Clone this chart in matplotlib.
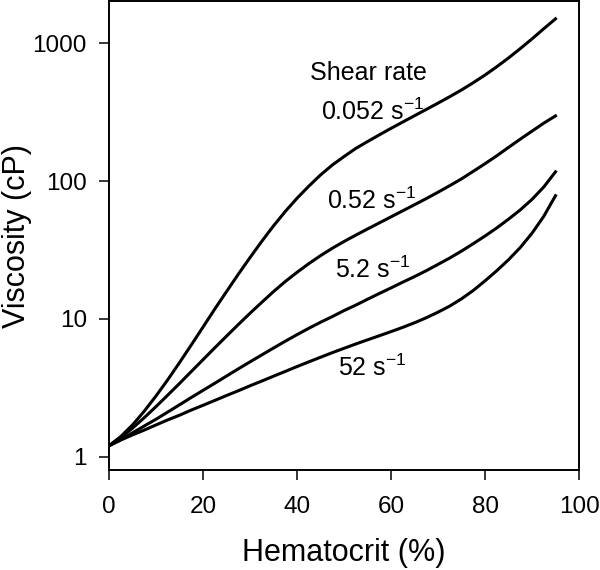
import matplotlib
matplotlib.use("Agg")
import matplotlib.pyplot as plt

plt.rcParams["font.family"] = ["Liberation Sans", "DejaVu Sans"]
plt.rcParams["mathtext.fontset"] = "custom"
plt.rcParams["mathtext.rm"] = "Liberation Sans"
plt.rcParams["mathtext.it"] = "Liberation Sans"

# Hematocrit (%) and viscosity (cP) for each shear rate
hct = [0, 2.5, 5, 7.5, 10, 12.5, 15, 17.5, 20, 22.5, 25, 27.5, 30, 32.5, 35,
       37.5, 40, 42.5, 45, 47.5, 50, 52.5, 55, 57.5, 60, 62.5, 65, 67.5, 70,
       72.5, 75, 77.5, 80, 82.5, 85, 87.5, 90, 92.5, 95]
visc_0052 = [1.2, 1.4, 1.7, 2.14, 2.76, 3.62, 4.82, 6.47, 8.73, 11.8, 15.8,
             21.1, 27.9, 36.6, 47.4, 60.3, 75.2, 92.0, 111, 131, 151, 173, 194,
             217, 242, 269, 299, 332, 369, 411, 460, 519, 590, 678, 785, 918,
             1080, 1280, 1510]
visc_052 = [1.2, 1.38, 1.61, 1.92, 2.31, 2.80, 3.40, 4.15, 5.06, 6.17, 7.50,
            9.10, 11.0, 13.2, 15.8, 18.7, 21.8, 25.2, 28.8, 32.6, 36.5, 40.6,
            45.0, 49.8, 55.1, 61.0, 67.5, 74.8, 83.2, 92.9, 104, 118, 134, 153,
            176, 202, 231, 264, 298]
visc_52 = [1.2, 1.33, 1.49, 1.67, 1.87, 2.11, 2.38, 2.69, 3.03, 3.41, 3.85,
           4.34, 4.88, 5.48, 6.15, 6.89, 7.69, 8.55, 9.46, 10.4, 11.5, 12.6,
           13.9, 15.3, 16.8, 18.5, 20.3, 22.4, 24.9, 27.7, 31.1, 35.2, 40.0,
           45.8, 53.0, 61.9, 73.8, 90.8, 117]
visc_520 = [1.2, 1.32, 1.44, 1.56, 1.70, 1.85, 2.0, 2.18, 2.36, 2.56, 2.78,
            3.01, 3.27, 3.54, 3.84, 4.16, 4.51, 4.88, 5.27, 5.69, 6.12, 6.58,
            7.05, 7.55, 8.09, 8.69, 9.38, 10.2, 11.2, 12.4, 14.0, 16.1, 18.9,
            22.4, 26.9, 33.0, 41.9, 55.6, 78.5]

series = [visc_0052, visc_052, visc_52, visc_520]
labels = ["0.052 s$^{-1}$", "0.52 s$^{-1}$", "5.2 s$^{-1}$", "52 s$^{-1}$"]
label_pos = [(45.1, 320), (46.4, 72.6), (48.1, 22.6), (48.7, 4.41)]

fig = plt.figure(figsize=(6.0, 5.7), dpi=100)
ax = fig.add_axes([0.1817, 0.1754, 0.7833, 0.8226])

for ys in series:
    ax.plot(hct, ys, color="black", linewidth=2.2, solid_joinstyle="round")

ax.text(42.8, 614, "Shear rate", fontsize=18, ha="left", va="center")
for (tx, ty), lab in zip(label_pos, labels):
    ax.text(tx, ty, lab, fontsize=18, ha="left", va="center")

ax.set_yscale("log")
ax.set_xlim(0, 100)
ax.set_ylim(0.8, 2030)
ax.set_xticks([0, 20, 40, 60, 80, 100])
ax.set_yticks([1, 10, 100, 1000])
ax.set_yticklabels(["1", "10", "100", "1000"])
ax.minorticks_off()
ax.tick_params(axis="both", direction="out", length=7, width=1.1,
               labelsize=17.5)
ax.tick_params(axis="x", pad=12)
ax.tick_params(axis="y", pad=9)
for sp in ax.spines.values():
    sp.set_linewidth(1.4)

ax.set_xlabel("Hematocrit (%)", fontsize=22, labelpad=14)
ax.set_ylabel("Viscosity (cP)", fontsize=22, labelpad=0)

fig.savefig("out.png", dpi=100)
